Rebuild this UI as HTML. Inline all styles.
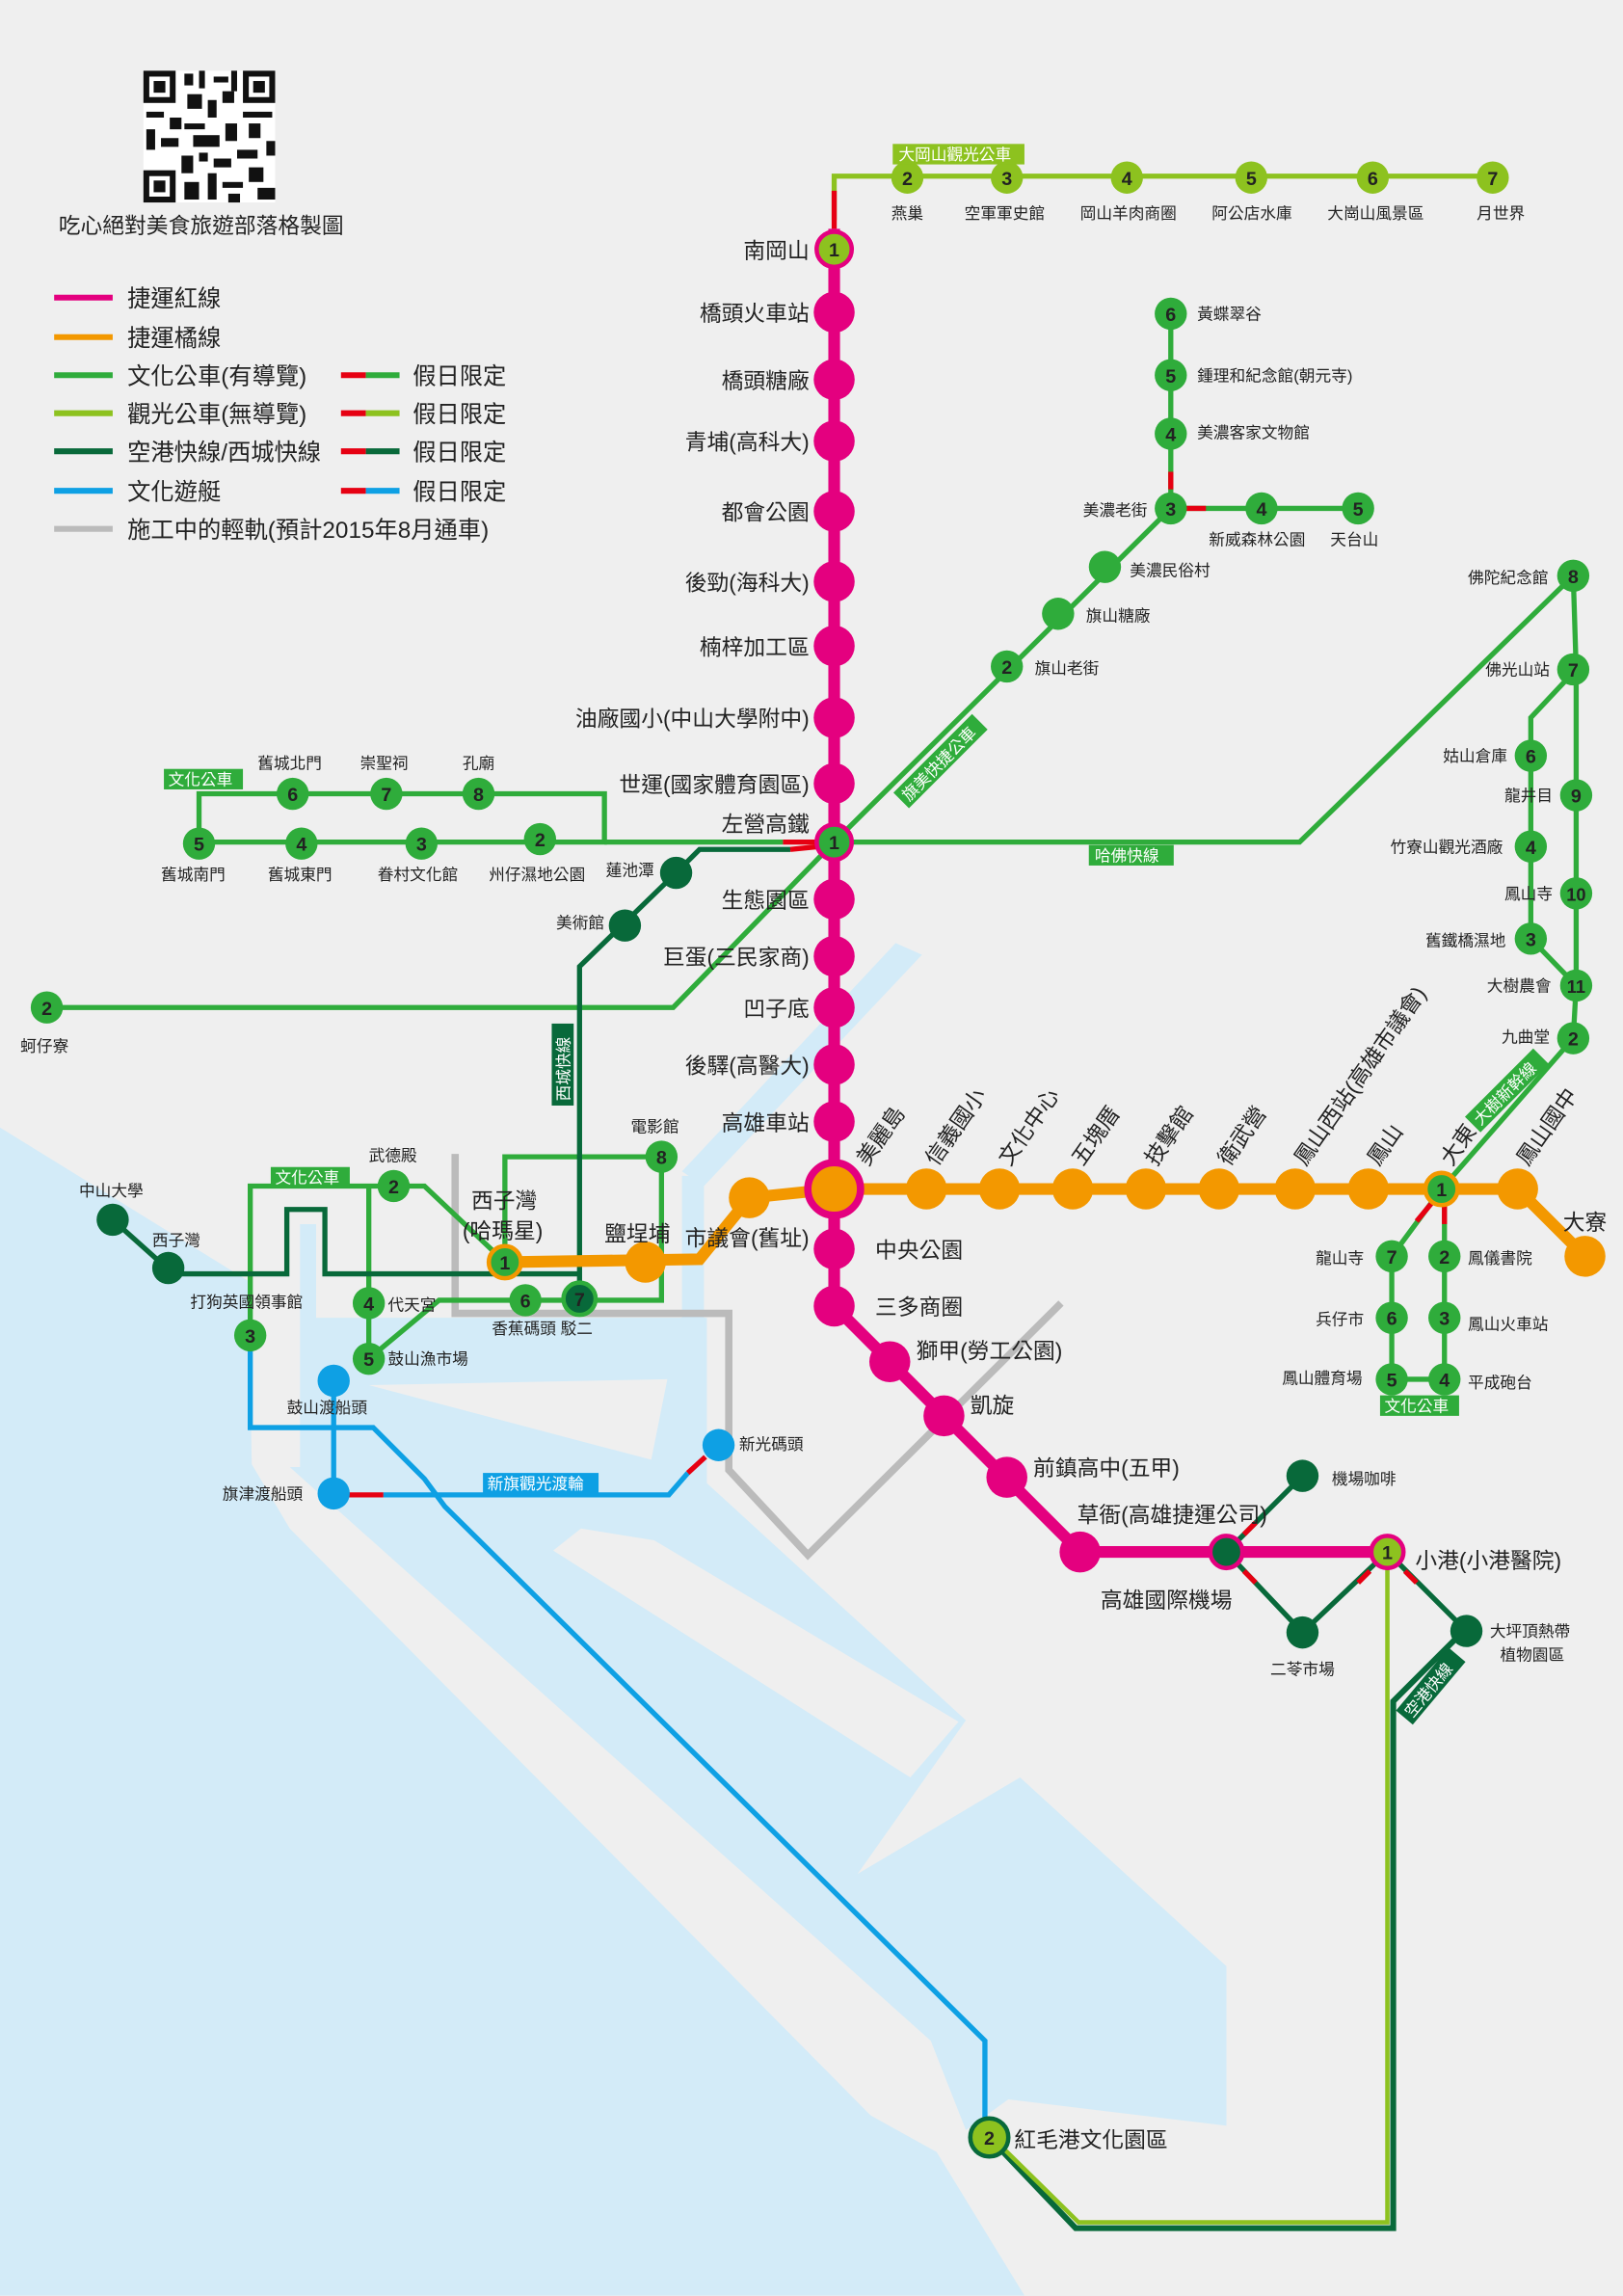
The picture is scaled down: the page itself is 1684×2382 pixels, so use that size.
<!DOCTYPE html>
<html><head><meta charset="utf-8"><style>
html,body{margin:0;padding:0;background:#efefef}
svg{display:block}
text{font-family:"Liberation Sans","Noto Sans CJK TC",sans-serif;fill:#222}
.L{font-size:15px}
.G{font-size:16px}
.s{font-size:11px}
.n{font-size:13px;font-weight:bold;fill:#fff;text-anchor:middle}
.w{fill:#fff;font-size:11px}
</style></head><body>
<svg width="1684" height="2382" viewBox="0 0 1109 1568" xmlns="http://www.w3.org/2000/svg">
<rect width="1109" height="1568" fill="#efefef"/>
<!-- water -->
<g fill="#d3ebf8">
<polygon points="0,770 170,875 172,1000 198,1044 595,1445 640,1470 700,1568 0,1568"/>
<polygon points="198,1002 636,1394 660,1455 689,1434 838,1452 838,1343 697,1214 586,1280 660,1175 483,1013 483,900 216,900 216,836 205,836 205,1002"/>
<polygon points="466,803 481,803 481,945 466,945"/>
<polygon points="466,800 612,644 630,652 481,810"/>
</g>
<g fill="#efefef">
<polygon points="378,1059 397,1044 447,1052 655,1176 622,1214"/>
<polygon points="252,946 456,942 445,997"/>
</g>
<!-- construction LRT -->
<polyline points="311,788 311,897 498,897 498,1004 552,1062 725,890" fill="none" stroke="#bbb" stroke-width="5"/>

<!-- QR -->
<g fill="#111">
<rect x="98" y="48" width="90" height="90" fill="#fff"/>
<rect x="98" y="48" width="22" height="22"/><rect x="102" y="52" width="14" height="14" fill="#fff"/><rect x="105" y="55" width="8" height="8"/>
<rect x="166" y="48" width="22" height="22"/><rect x="170" y="52" width="14" height="14" fill="#fff"/><rect x="173" y="55" width="8" height="8"/>
<rect x="98" y="116" width="22" height="22"/><rect x="102" y="120" width="14" height="14" fill="#fff"/><rect x="105" y="123" width="8" height="8"/>
<rect x="126" y="50" width="6" height="8"/><rect x="136" y="48" width="4" height="12"/><rect x="146" y="52" width="10" height="4"/><rect x="158" y="48" width="4" height="14"/>
<rect x="100" y="76" width="12" height="4"/><rect x="116" y="80" width="8" height="8"/><rect x="128" y="64" width="10" height="10"/><rect x="142" y="68" width="6" height="12"/><rect x="152" y="62" width="8" height="8"/>
<rect x="166" y="76" width="20" height="4"/><rect x="170" y="84" width="8" height="10"/><rect x="100" y="88" width="6" height="14"/><rect x="110" y="94" width="12" height="6"/>
<rect x="126" y="84" width="14" height="4"/><rect x="132" y="92" width="18" height="8"/><rect x="154" y="84" width="8" height="12"/><rect x="182" y="96" width="6" height="10"/>
<rect x="124" y="106" width="8" height="12"/><rect x="136" y="104" width="6" height="6"/><rect x="146" y="108" width="12" height="6"/><rect x="162" y="102" width="14" height="6"/>
<rect x="126" y="124" width="10" height="12"/><rect x="142" y="118" width="6" height="18"/><rect x="152" y="124" width="14" height="4"/><rect x="170" y="114" width="10" height="10"/><rect x="176" y="128" width="12" height="8"/><rect x="156" y="132" width="8" height="6"/>
</g>
<text x="40" y="159" style="font-size:15px">吃心絕對美食旅遊部落格製圖</text>

<!-- legend -->
<g stroke-width="4">
<line x1="37" y1="203" x2="77" y2="203" stroke="#e4007f"/>
<line x1="37" y1="230" x2="77" y2="230" stroke="#f39800"/>
<line x1="37" y1="256" x2="77" y2="256" stroke="#2fac3b"/>
<line x1="37" y1="282" x2="77" y2="282" stroke="#8dc21f"/>
<line x1="37" y1="308" x2="77" y2="308" stroke="#08693a"/>
<line x1="37" y1="335" x2="77" y2="335" stroke="#0ea0e4"/>
<line x1="37" y1="361" x2="77" y2="361" stroke="#bbb"/>
<line x1="233" y1="256" x2="250" y2="256" stroke="#e60012"/><line x1="250" y1="256" x2="273" y2="256" stroke="#2fac3b"/>
<line x1="233" y1="282" x2="250" y2="282" stroke="#e60012"/><line x1="250" y1="282" x2="273" y2="282" stroke="#8dc21f"/>
<line x1="233" y1="308" x2="250" y2="308" stroke="#e60012"/><line x1="250" y1="308" x2="273" y2="308" stroke="#08693a"/>
<line x1="233" y1="335" x2="250" y2="335" stroke="#e60012"/><line x1="250" y1="335" x2="273" y2="335" stroke="#0ea0e4"/>
</g>
<g class="G">
<text x="87" y="209">捷運紅線</text><text x="87" y="236">捷運橘線</text><text x="87" y="262">文化公車(有導覽)</text>
<text x="87" y="288">觀光公車(無導覽)</text><text x="87" y="314">空港快線/西城快線</text><text x="87" y="341">文化遊艇</text>
<text x="87" y="367">施工中的輕軌(預計2015年8月通車)</text>
<text x="282" y="262">假日限定</text><text x="282" y="288">假日限定</text><text x="282" y="314">假日限定</text><text x="282" y="341">假日限定</text>
</g>

<!-- green lines -->
<g fill="none" stroke-width="3.5">
<polyline points="570,150 570,120 1020,120" stroke="#8dc21f"/>
<line x1="570" y1="130" x2="570" y2="156" stroke="#e60012"/>
<polyline points="570,575 800,347 800,214" stroke="#2fac3b"/>
<line x1="800" y1="322" x2="800" y2="334" stroke="#e60012"/>
<line x1="800" y1="347" x2="928" y2="347" stroke="#2fac3b"/>
<line x1="810" y1="347" x2="824" y2="347" stroke="#e60012"/>
<polyline points="570,575 888,575 1075,393 1077,457 1077,673 1075,709 985,812" stroke="#2fac3b"/>
<polyline points="1077,457 1046,490 1046,641 1077,673" stroke="#2fac3b"/>
<polyline points="136,576 136,542 413,542 413,575 136,575" stroke="#2fac3b"/>
<line x1="413" y1="575" x2="535" y2="575" stroke="#2fac3b"/>
<line x1="535" y1="575" x2="558" y2="575" stroke="#e60012"/>
<polyline points="32,688 460,688 570,575" stroke="#2fac3b"/>
<polyline points="985,812 951,858 951,942 987,942 987,812" stroke="#2fac3b"/>
<line x1="978" y1="822" x2="968" y2="834" stroke="#e60012"/><line x1="987" y1="822" x2="987" y2="836" stroke="#e60012"/>
<polyline points="345,862 345,790 452,790 452,888 359,888 300,888 252,928" stroke="#2fac3b"/>
<polyline points="345,862 290,810 171,810 171,912" stroke="#2fac3b"/>
<line x1="252" y1="810" x2="252" y2="928" stroke="#2fac3b"/>
<!-- dark green -->
<polyline points="396,887 396,660 462,596 478,580 540,580" stroke="#08693a"/>
<line x1="540" y1="580" x2="560" y2="578" stroke="#e60012"/>
<polyline points="77,833 115,867 115,870 196,870 196,826 222,826 222,870 396,870" stroke="#08693a"/>
<polyline points="838,1060 890,1008" stroke="#08693a"/>
<polyline points="838,1060 890,1115 948,1060 1002,1114" stroke="#08693a"/>
<line x1="850" y1="1048" x2="858" y2="1040" stroke="#e60012"/><line x1="850" y1="1073" x2="858" y2="1081" stroke="#e60012"/>
<line x1="936" y1="1073" x2="928" y2="1081" stroke="#e60012"/><line x1="960" y1="1073" x2="968" y2="1081" stroke="#e60012"/>
<polyline points="676,1460 735,1522 952,1522 952,1162 1000,1114" stroke="#08693a" stroke-width="4"/>
<polyline points="680,1462 737,1518 948,1518 948,1060" stroke="#8dc21f" stroke-width="3"/>
<!-- blue -->
<polyline points="228,943 228,1020" stroke="#0ea0e4"/>
<line x1="238" y1="1021" x2="262" y2="1021" stroke="#e60012"/>
<polyline points="262,1021 457,1021 470,1006" stroke="#0ea0e4"/>
<line x1="470" y1="1006" x2="482" y2="995" stroke="#e60012"/>
<polyline points="171,912 171,975 255,975 290,1010 304,1029 673,1394 673,1449" stroke="#0ea0e4"/>
</g>

<!-- magenta line -->
<polyline points="570,156 570,892 738,1060 948,1060" fill="none" stroke="#e4007f" stroke-width="8"/>
<g fill="#e4007f">
<circle cx="570" cy="213" r="14"/><circle cx="570" cy="259" r="14"/><circle cx="570" cy="301" r="14"/><circle cx="570" cy="349" r="14"/>
<circle cx="570" cy="397" r="14"/><circle cx="570" cy="441" r="14"/><circle cx="570" cy="490" r="14"/><circle cx="570" cy="535" r="14"/>
<circle cx="570" cy="614" r="14"/><circle cx="570" cy="653" r="14"/><circle cx="570" cy="688" r="14"/><circle cx="570" cy="727" r="14"/>
<circle cx="570" cy="766" r="14"/><circle cx="570" cy="853" r="14"/><circle cx="570" cy="892" r="14"/><circle cx="608" cy="930" r="14"/>
<circle cx="645" cy="967" r="14"/><circle cx="688" cy="1009" r="14"/><circle cx="738" cy="1060" r="14"/>
</g>
<!-- orange line -->
<polyline points="1083,858 1037,812 570,812 512,818 478,860 345,862" fill="none" stroke="#f39800" stroke-width="8"/>
<g fill="#f39800">
<circle cx="633" cy="812" r="14"/><circle cx="683" cy="812" r="14"/><circle cx="733" cy="812" r="14"/><circle cx="783" cy="812" r="14"/>
<circle cx="833" cy="812" r="14"/><circle cx="885" cy="812" r="14"/><circle cx="935" cy="812" r="14"/><circle cx="1037" cy="812" r="14"/>
<circle cx="1083" cy="858" r="14"/><circle cx="512" cy="818" r="14"/><circle cx="441" cy="862" r="14"/>
</g>
<circle cx="570" cy="812" r="18" fill="#f39800" stroke="#e4007f" stroke-width="5"/>

<!-- special interchange circles -->
<g stroke-width="3">
<circle cx="570" cy="170" r="12" fill="#8dc21f" stroke="#e4007f"/>
<circle cx="570" cy="575" r="12" fill="#2fac3b" stroke="#e4007f"/>
<circle cx="985" cy="812" r="11" fill="#2fac3b" stroke="#f39800"/>
<circle cx="345" cy="862" r="11" fill="#2fac3b" stroke="#f39800"/>
<circle cx="838" cy="1060" r="11" fill="#08693a" stroke="#e4007f"/>
<circle cx="948" cy="1060" r="11" fill="#8dc21f" stroke="#e4007f"/>
<circle cx="676" cy="1460" r="13" fill="#8dc21f" stroke="#08693a"/>
<circle cx="396" cy="887" r="11" fill="#08693a" stroke="#2fac3b"/>
</g>
<g class="n">
<text x="570" y="175">1</text><text x="570" y="580">1</text><text x="985" y="817">1</text><text x="345" y="867">1</text>
<text x="948" y="1065">1</text><text x="676" y="1465">2</text><text x="396" y="892">7</text>
</g>

<!-- light green stations -->
<g fill="#8dc21f"><circle cx="620" cy="121" r="11"/><circle cx="688" cy="121" r="11"/><circle cx="770" cy="121" r="11"/><circle cx="855" cy="121" r="11"/><circle cx="938" cy="121" r="11"/><circle cx="1020" cy="121" r="11"/></g>
<g class="n"><text x="620" y="126">2</text><text x="688" y="126">3</text><text x="770" y="126">4</text><text x="855" y="126">5</text><text x="938" y="126">6</text><text x="1020" y="126">7</text></g>

<!-- green stations -->
<g fill="#2fac3b">
<circle cx="688" cy="455" r="11"/><circle cx="723" cy="419" r="11"/><circle cx="755" cy="387" r="11"/><circle cx="800" cy="347" r="11"/>
<circle cx="800" cy="296" r="11"/><circle cx="800" cy="256" r="11"/><circle cx="800" cy="214" r="11"/><circle cx="862" cy="347" r="11"/><circle cx="928" cy="347" r="11"/>
<circle cx="1075" cy="393" r="11"/><circle cx="1075" cy="457" r="11"/><circle cx="1046" cy="516" r="11"/><circle cx="1077" cy="543" r="11"/>
<circle cx="1046" cy="578" r="11"/><circle cx="1077" cy="610" r="11"/><circle cx="1046" cy="641" r="11"/><circle cx="1077" cy="673" r="11"/><circle cx="1075" cy="709" r="11"/>
<circle cx="951" cy="858" r="11"/><circle cx="951" cy="900" r="11"/><circle cx="951" cy="942" r="11"/><circle cx="987" cy="858" r="11"/><circle cx="987" cy="900" r="11"/><circle cx="987" cy="942" r="11"/>
<circle cx="200" cy="542" r="11"/><circle cx="264" cy="542" r="11"/><circle cx="327" cy="542" r="11"/>
<circle cx="136" cy="576" r="11"/><circle cx="206" cy="576" r="11"/><circle cx="288" cy="576" r="11"/><circle cx="369" cy="573" r="11"/>
<circle cx="32" cy="688" r="11"/>
<circle cx="269" cy="810" r="11"/><circle cx="171" cy="912" r="11"/><circle cx="252" cy="890" r="11"/><circle cx="252" cy="928" r="11"/><circle cx="359" cy="888" r="11"/><circle cx="452" cy="790" r="11"/>
</g>
<g class="n">
<text x="688" y="460">2</text><text x="800" y="352">3</text><text x="800" y="301">4</text><text x="800" y="261">5</text><text x="800" y="219">6</text>
<text x="862" y="352">4</text><text x="928" y="352">5</text>
<text x="1075" y="398">8</text><text x="1075" y="462">7</text><text x="1046" y="521">6</text><text x="1077" y="548">9</text>
<text x="1046" y="583">4</text><text x="1077" y="615" style="font-size:12px">10</text><text x="1046" y="646">3</text><text x="1077" y="678" style="font-size:12px">11</text><text x="1075" y="714">2</text>
<text x="951" y="863">7</text><text x="951" y="905">6</text><text x="951" y="947">5</text><text x="987" y="863">2</text><text x="987" y="905">3</text><text x="987" y="947">4</text>
<text x="200" y="547">6</text><text x="264" y="547">7</text><text x="327" y="547">8</text>
<text x="136" y="581">5</text><text x="206" y="581">4</text><text x="288" y="581">3</text><text x="369" y="578">2</text>
<text x="32" y="693">2</text><text x="269" y="815">2</text><text x="171" y="917">3</text><text x="252" y="895">4</text><text x="252" y="933">5</text><text x="359" y="893">6</text><text x="452" y="795">8</text>
</g>
<!-- dark green stations -->
<g fill="#08693a">
<circle cx="462" cy="596" r="11"/><circle cx="427" cy="632" r="11"/><circle cx="77" cy="833" r="11"/><circle cx="115" cy="866" r="11"/>
<circle cx="890" cy="1008" r="11"/><circle cx="890" cy="1115" r="11"/><circle cx="1002" cy="1114" r="11"/>
</g>
<!-- blue stations -->
<g fill="#0ea0e4"><circle cx="228" cy="943" r="11"/><circle cx="228" cy="1020" r="11"/><circle cx="491" cy="987" r="11"/></g>

<!-- label boxes -->
<rect x="610" y="98" width="90" height="14" fill="#8dc21f"/><text x="614" y="109" class="w">大岡山觀光公車</text>
<rect x="112" y="525" width="54" height="14" fill="#2fac3b"/><text x="115" y="536" class="w">文化公車</text>
<rect x="185" y="797" width="54" height="14" fill="#2fac3b"/><text x="188" y="808" class="w">文化公車</text>
<rect x="943" y="953" width="54" height="14" fill="#2fac3b"/><text x="946" y="964" class="w">文化公車</text>
<rect x="744" y="577" width="58" height="14" fill="#2fac3b"/><text x="748" y="588" class="w">哈佛快線</text>
<rect x="330" y="1006" width="79" height="14" fill="#0ea0e4"/><text x="333" y="1017" class="w">新旗觀光渡輪</text>
<g transform="translate(643,520) rotate(-45)"><rect x="-38" y="-8" width="76" height="15" fill="#2fac3b"/><text x="-35" y="4" class="w">旗美快捷公車</text></g>
<g transform="translate(1030,745) rotate(-45)"><rect x="-33" y="-8" width="66" height="15" fill="#2fac3b"/><text x="-30" y="4" class="w">大樹新幹線</text></g>
<g transform="translate(385,727) rotate(-90)"><rect x="-28" y="-8" width="56" height="15" fill="#08693a"/><text x="-25" y="4" class="w">西城快線</text></g>
<g transform="translate(978,1152) rotate(-50)"><rect x="-28" y="-8" width="56" height="15" fill="#08693a"/><text x="-25" y="4" class="w">空港快線</text></g>

<!-- magenta labels -->
<g class="L" text-anchor="end">
<text x="553" y="176">南岡山</text><text x="553" y="219">橋頭火車站</text><text x="553" y="265">橋頭糖廠</text><text x="553" y="307">青埔(高科大)</text>
<text x="553" y="355">都會公園</text><text x="553" y="403">後勁(海科大)</text><text x="553" y="447">楠梓加工區</text><text x="553" y="496">油廠國小(中山大學附中)</text>
<text x="553" y="541">世運(國家體育園區)</text><text x="553" y="568">左營高鐵</text><text x="553" y="620">生態園區</text><text x="553" y="659">巨蛋(三民家商)</text>
<text x="553" y="694">凹子底</text><text x="553" y="733">後驛(高醫大)</text><text x="553" y="772">高雄車站</text>
</g>
<g class="L">
<text x="598" y="859">中央公園</text><text x="598" y="898">三多商圈</text><text x="626" y="928">獅甲(勞工公園)</text><text x="663" y="965">凱旋</text>
<text x="706" y="1008">前鎮高中(五甲)</text><text x="736" y="1040">草衙(高雄捷運公司)</text><text x="752" y="1098">高雄國際機場</text><text x="967" y="1071">小港(小港醫院)</text>
<text x="693" y="1467">紅毛港文化園區</text>
<text x="468" y="851">市議會(舊址)</text><text x="413" y="848">鹽埕埔</text><text x="322" y="825">西子灣</text><text x="316" y="846">(哈瑪星)</text>
<text x="1068" y="840">大寮</text>
</g>
<!-- orange rotated labels -->
<g class="L">
<text transform="translate(593,797) rotate(-55)">美麗島</text>
<text transform="translate(640,797) rotate(-55)">信義國小</text>
<text transform="translate(690,797) rotate(-55)">文化中心</text>
<text transform="translate(740,797) rotate(-55)">五塊厝</text>
<text transform="translate(790,797) rotate(-55)">技擊館</text>
<text transform="translate(840,797) rotate(-55)">衛武營</text>
<text transform="translate(892,797) rotate(-55)">鳳山西站(高雄市議會)</text>
<text transform="translate(942,797) rotate(-55)">鳳山</text>
<text transform="translate(992,797) rotate(-55)">大東</text>
<text transform="translate(1044,797) rotate(-55)">鳳山國中</text>
</g>
<!-- small labels -->
<g class="s">
<text x="609" y="149">燕巢</text><text x="659" y="149">空軍軍史館</text><text x="738" y="149">岡山羊肉商圈</text><text x="828" y="149">阿公店水庫</text><text x="907" y="149">大崗山風景區</text><text x="1009" y="149">月世界</text>
<text x="818" y="218">黃蝶翠谷</text><text x="818" y="260">鍾理和紀念館(朝元寺)</text><text x="818" y="299">美濃客家文物館</text>
<text x="740" y="352">美濃老街</text><text x="826" y="372">新威森林公園</text><text x="909" y="372">天台山</text>
<text x="772" y="393">美濃民俗村</text><text x="742" y="424">旗山糖廠</text><text x="707" y="460">旗山老街</text>
<text x="1003" y="398">佛陀紀念館</text><text x="1015" y="461">佛光山站</text><text x="986" y="520">姑山倉庫</text><text x="1028" y="547">龍井目</text>
<text x="950" y="582">竹寮山觀光酒廠</text><text x="1028" y="614">鳳山寺</text><text x="974" y="646">舊鐵橋濕地</text><text x="1016" y="677">大樹農會</text><text x="1026" y="712">九曲堂</text>
<text x="899" y="863">龍山寺</text><text x="899" y="905">兵仔市</text><text x="876" y="945">鳳山體育場</text>
<text x="1003" y="863">鳳儀書院</text><text x="1003" y="908">鳳山火車站</text><text x="1003" y="948">平成砲台</text>
<text x="176" y="525">舊城北門</text><text x="246" y="525">崇聖祠</text><text x="316" y="525">孔廟</text>
<text x="110" y="601">舊城南門</text><text x="183" y="601">舊城東門</text><text x="258" y="601">眷村文化館</text><text x="334" y="601">州仔濕地公園</text>
<text x="414" y="598">蓮池潭</text><text x="380" y="634">美術館</text><text x="14" y="718">蚵仔寮</text>
<text x="54" y="817">中山大學</text><text x="104" y="851">西子灣</text><text x="252" y="793">武德殿</text><text x="431" y="773">電影館</text>
<text x="130" y="893">打狗英國領事館</text><text x="265" y="895">代天宮</text><text x="265" y="932">鼓山漁市場</text><text x="336" y="911">香蕉碼頭 駁二</text>
<text x="196" y="965">鼓山渡船頭</text><text x="152" y="1024">旗津渡船頭</text><text x="505" y="990">新光碼頭</text>
<text x="910" y="1014">機場咖啡</text><text x="868" y="1144">二苓市場</text><text x="1018" y="1118">大坪頂熱帶</text><text x="1025" y="1134">植物園區</text>
</g>
</svg>
</body></html>
